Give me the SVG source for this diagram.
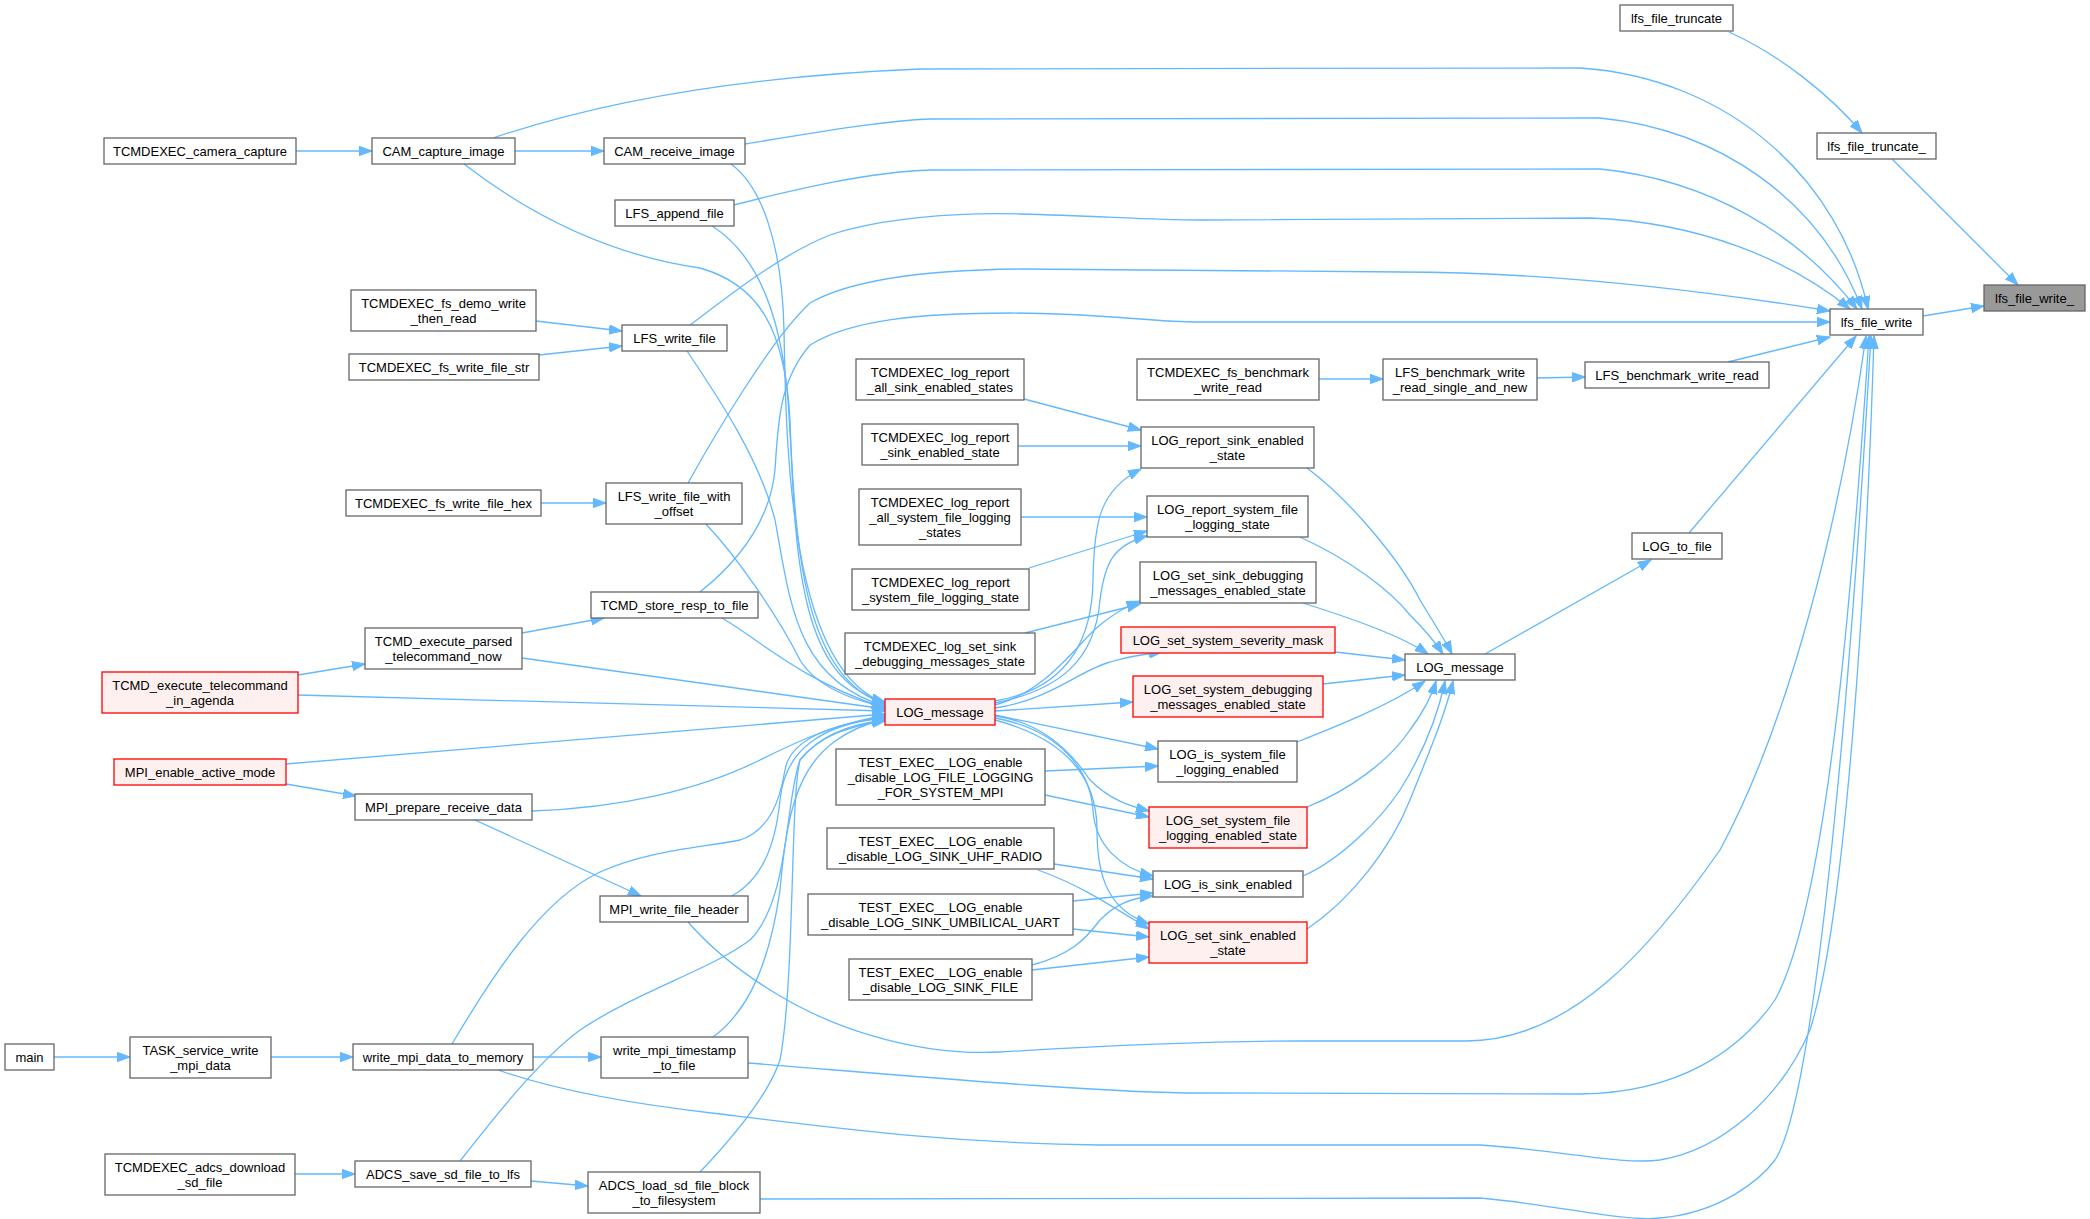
<svg xmlns="http://www.w3.org/2000/svg" width="2090" height="1219" viewBox="0 0 2090 1219">
<style>
.n rect{fill:#ffffff;stroke:#666666;stroke-width:1.3}
.n.r rect{fill:#fff0f0;stroke:#ff0000}
.n.g rect{fill:#999999;stroke:#666666}
.n text{font-family:"Liberation Sans",Arial,Helvetica,sans-serif;font-size:13px;fill:#000000;text-anchor:middle}
.e{fill:none;stroke:#63b8ff;stroke-width:1.3;marker-end:url(#ah)}
</style>
<defs>
<marker id="ah" markerUnits="userSpaceOnUse" markerWidth="14" markerHeight="10" viewBox="0 0 14 10" refX="13" refY="5" orient="auto"><path d="M0,0.3 L13,5 L0,9.7 z" fill="#63b8ff" stroke="#63b8ff" stroke-width="1"/></marker>
</defs>
<rect width="2090" height="1219" fill="#ffffff"/>
<g id="edges">
<path class="e" d="M1729,32 C1780,55 1830,95 1862,133"/>
<path class="e" d="M1892,159 L2018,285"/>
<path class="e" d="M1923,316 L1984,306"/>
<path class="e" d="M493,138 C570,112 700,78 920,69 L1580,68 C1730,78 1840,180 1868,309"/>
<path class="e" d="M745,144 C820,132 880,121 930,119 L1600,118 C1720,130 1820,200 1862,309"/>
<path class="e" d="M734,205 C800,188 870,172 930,170 L1600,169 C1710,180 1800,235 1857,309"/>
<path class="e" d="M690,325 C730,295 780,255 830,235 C880,218 960,212 1020,214 C1100,216 1150,220 1200,220 L1590,218 C1700,222 1790,260 1850,309"/>
<path class="e" d="M688,483 C712,440 770,340 810,303 C850,280 920,270 1020,269 L1400,272 C1550,272 1700,290 1830,311"/>
<path class="e" d="M700,592 C740,560 770,520 775,470 C778,420 780,380 810,345 C850,320 920,313 1010,313 C1100,313 1150,322 1200,322 L1830,322"/>
<path class="e" d="M1728,362 L1830,337"/>
<path class="e" d="M1537,378 L1585,377"/>
<path class="e" d="M1319,379 L1383,379"/>
<path class="e" d="M1689,533 L1856,336"/>
<path class="e" d="M1485,654 L1651,560"/>
<path class="e" d="M688,922 C730,970 800,1015 870,1035 C920,1050 960,1054 1000,1052 C1100,1046 1200,1041 1300,1041 L1466,1041 C1570,1041 1650,950 1720,850 C1790,720 1840,520 1866,336"/>
<path class="e" d="M748,1063 C900,1075 1100,1093 1200,1093 L1580,1094 C1680,1093 1740,1050 1775,1000 C1830,900 1855,550 1869,336"/>
<path class="e" d="M498,1070 C560,1092 640,1105 720,1114 C850,1130 950,1143 1100,1145 L1480,1145 C1560,1150 1620,1165 1660,1160 C1720,1150 1780,1100 1810,1030 C1845,920 1866,600 1874,336"/>
<path class="e" d="M760,1199 L1480,1198 C1560,1205 1620,1222 1660,1218 C1720,1213 1760,1180 1775,1160 C1815,1100 1850,700 1871,336"/>
<path class="e" d="M464,164 C530,215 610,255 700,268 C760,285 785,330 790,420 C795,560 800,680 885,702"/>
<path class="e" d="M731,164 C760,185 782,240 784,330 C786,450 790,670 885,703"/>
<path class="e" d="M712,226 C750,250 780,300 788,400 C796,520 795,675 885,704"/>
<path class="e" d="M687,351 C720,400 760,460 775,520 C790,600 795,680 885,706"/>
<path class="e" d="M705,523 C740,560 780,620 800,660 C815,685 850,700 885,707"/>
<path class="e" d="M722,618 C760,640 800,680 885,708"/>
<path class="e" d="M522,658 L885,709"/>
<path class="e" d="M298,695 L885,711"/>
<path class="e" d="M286,764 L885,714"/>
<path class="e" d="M532,811 C620,808 700,790 760,760 C800,740 840,722 885,716"/>
<path class="e" d="M732,896 C760,880 775,850 780,800 C785,750 820,725 885,717"/>
<path class="e" d="M452,1044 C490,980 540,900 600,872 C650,850 700,848 740,840 C770,830 780,800 785,770 C790,740 830,724 885,718"/>
<path class="e" d="M713,1037 C750,1010 770,960 780,890 C788,800 800,740 885,719"/>
<path class="e" d="M460,1161 C500,1110 540,1060 580,1030 C640,990 710,970 750,940 C790,900 785,800 800,760 C820,735 850,724 885,720"/>
<path class="e" d="M700,1172 C740,1130 770,1090 780,1060 C795,980 790,800 800,760 C820,735 850,726 885,721"/>
<path class="e" d="M995,701 C1060,690 1092,650 1093,580 C1094,520 1100,490 1141,469"/>
<path class="e" d="M995,703 C1060,690 1095,660 1100,600 C1105,560 1115,545 1147,536"/>
<path class="e" d="M995,705 C1050,690 1080,640 1100,625 C1112,615 1125,607 1140,601"/>
<path class="e" d="M995,708 C1050,700 1080,670 1110,662 C1130,656 1145,654 1162,652"/>
<path class="e" d="M995,711 L1133,702"/>
<path class="e" d="M995,715 L1158,749"/>
<path class="e" d="M995,716 C1040,722 1070,750 1090,780 C1110,800 1130,806 1149,811"/>
<path class="e" d="M995,718 C1060,730 1090,770 1093,810 C1095,845 1120,868 1153,876"/>
<path class="e" d="M995,720 C1070,740 1097,780 1097,830 C1097,880 1110,910 1149,924"/>
<path class="e" d="M1024,399 L1141,430"/>
<path class="e" d="M1018,446 L1141,446"/>
<path class="e" d="M1021,517 L1147,517"/>
<path class="e" d="M1029,568 L1147,531"/>
<path class="e" d="M1025,633 L1140,604"/>
<path class="e" d="M1045,771 L1158,766"/>
<path class="e" d="M1045,795 L1149,817"/>
<path class="e" d="M1054,864 L1153,879"/>
<path class="e" d="M1038,870 C1080,885 1110,905 1149,929"/>
<path class="e" d="M1073,901 L1153,893"/>
<path class="e" d="M1073,929 L1149,937"/>
<path class="e" d="M1032,965 C1070,955 1085,940 1100,920 C1115,905 1130,898 1153,896"/>
<path class="e" d="M1032,970 L1149,957"/>
<path class="e" d="M1307,468 C1350,500 1400,560 1420,600 C1435,625 1445,640 1452,654"/>
<path class="e" d="M1300,537 C1350,560 1390,590 1410,615 C1425,630 1435,642 1443,654"/>
<path class="e" d="M1303,603 C1350,618 1400,635 1428,654"/>
<path class="e" d="M1335,652 L1405,660"/>
<path class="e" d="M1323,684 L1405,675"/>
<path class="e" d="M1297,742 C1340,725 1390,705 1425,681"/>
<path class="e" d="M1307,807 C1350,790 1390,760 1410,730 C1425,710 1432,695 1436,681"/>
<path class="e" d="M1303,876 C1340,860 1380,820 1400,790 C1425,750 1438,715 1445,681"/>
<path class="e" d="M1307,929 C1350,900 1390,850 1410,800 C1430,750 1445,715 1453,681"/>
<path class="e" d="M296,151 L372,151"/>
<path class="e" d="M515,151 L604,151"/>
<path class="e" d="M536,321 L622,331"/>
<path class="e" d="M539,355 L622,346"/>
<path class="e" d="M541,503 L606,503"/>
<path class="e" d="M522,633 L604,618"/>
<path class="e" d="M298,675 L365,664"/>
<path class="e" d="M286,784 L356,796"/>
<path class="e" d="M475,820 L641,896"/>
<path class="e" d="M54,1057 L130,1057"/>
<path class="e" d="M271,1057 L353,1057"/>
<path class="e" d="M533,1057 L601,1057"/>
<path class="e" d="M295,1174 L355,1174"/>
<path class="e" d="M531,1181 L588,1186"/>
</g>
<g id="lfs_file_write_" class="n g"><rect x="1984" y="285" width="101" height="26"/><text x="2034.5" y="302.5">lfs_file_write_</text></g>
<g id="lfs_file_write" class="n"><rect x="1830" y="309" width="93" height="26"/><text x="1876.5" y="326.5">lfs_file_write</text></g>
<g id="lfs_file_truncate_" class="n"><rect x="1817" y="133" width="119" height="26"/><text x="1876.5" y="150.5">lfs_file_truncate_</text></g>
<g id="lfs_file_truncate" class="n"><rect x="1620" y="5" width="113" height="26"/><text x="1676.5" y="22.5">lfs_file_truncate</text></g>
<g id="LFS_benchmark_write_read" class="n"><rect x="1585" y="362" width="184" height="26"/><text x="1677" y="379.5">LFS_benchmark_write_read</text></g>
<g id="LFS_benchmark_write_read_single_and_new" class="n"><rect x="1383" y="359" width="154" height="41"/><text x="1460" y="376.5">LFS_benchmark_write</text><text x="1460" y="391.5">_read_single_and_new</text></g>
<g id="TCMDEXEC_fs_benchmark_write_read" class="n"><rect x="1137" y="359" width="182" height="41"/><text x="1228" y="376.5">TCMDEXEC_fs_benchmark</text><text x="1228" y="391.5">_write_read</text></g>
<g id="LOG_to_file" class="n"><rect x="1632" y="533" width="90" height="26"/><text x="1677" y="550.5">LOG_to_file</text></g>
<g id="LOG_message_r" class="n"><rect x="1405" y="654" width="110" height="26"/><text x="1460" y="671.5">LOG_message</text></g>
<g id="CAM_capture_image" class="n"><rect x="372" y="138" width="143" height="26"/><text x="443.5" y="155.5">CAM_capture_image</text></g>
<g id="TCMDEXEC_camera_capture" class="n"><rect x="104" y="138" width="192" height="26"/><text x="200" y="155.5">TCMDEXEC_camera_capture</text></g>
<g id="CAM_receive_image" class="n"><rect x="604" y="138" width="141" height="26"/><text x="674.5" y="155.5">CAM_receive_image</text></g>
<g id="LFS_append_file" class="n"><rect x="615" y="200" width="119" height="26"/><text x="674.5" y="217.5">LFS_append_file</text></g>
<g id="LFS_write_file" class="n"><rect x="622" y="325" width="105" height="26"/><text x="674.5" y="342.5">LFS_write_file</text></g>
<g id="TCMDEXEC_fs_demo_write_then_read" class="n"><rect x="351" y="290" width="185" height="41"/><text x="443.5" y="307.5">TCMDEXEC_fs_demo_write</text><text x="443.5" y="322.5">_then_read</text></g>
<g id="TCMDEXEC_fs_write_file_str" class="n"><rect x="349" y="354" width="190" height="26"/><text x="444" y="371.5">TCMDEXEC_fs_write_file_str</text></g>
<g id="LFS_write_file_with_offset" class="n"><rect x="606" y="483" width="136" height="41"/><text x="674" y="500.5">LFS_write_file_with</text><text x="674" y="515.5">_offset</text></g>
<g id="TCMDEXEC_fs_write_file_hex" class="n"><rect x="346" y="490" width="195" height="26"/><text x="443.5" y="507.5">TCMDEXEC_fs_write_file_hex</text></g>
<g id="TCMD_store_resp_to_file" class="n"><rect x="591" y="592" width="167" height="26"/><text x="674.5" y="609.5">TCMD_store_resp_to_file</text></g>
<g id="TCMD_execute_parsed_telecommand_now" class="n"><rect x="365" y="628" width="157" height="41"/><text x="443.5" y="645.5">TCMD_execute_parsed</text><text x="443.5" y="660.5">_telecommand_now</text></g>
<g id="TCMD_execute_telecommand_in_agenda" class="n r"><rect x="102" y="672" width="196" height="41"/><text x="200" y="689.5">TCMD_execute_telecommand</text><text x="200" y="704.5">_in_agenda</text></g>
<g id="MPI_enable_active_mode" class="n r"><rect x="114" y="759" width="172" height="26"/><text x="200" y="776.5">MPI_enable_active_mode</text></g>
<g id="MPI_prepare_receive_data" class="n"><rect x="355" y="794" width="177" height="26"/><text x="443.5" y="811.5">MPI_prepare_receive_data</text></g>
<g id="MPI_write_file_header" class="n"><rect x="600" y="896" width="148" height="26"/><text x="674" y="913.5">MPI_write_file_header</text></g>
<g id="main" class="n"><rect x="5" y="1044" width="49" height="26"/><text x="29.5" y="1061.5">main</text></g>
<g id="TASK_service_write_mpi_data" class="n"><rect x="130" y="1037" width="141" height="41"/><text x="200.5" y="1054.5">TASK_service_write</text><text x="200.5" y="1069.5">_mpi_data</text></g>
<g id="write_mpi_data_to_memory" class="n"><rect x="353" y="1044" width="180" height="26"/><text x="443" y="1061.5">write_mpi_data_to_memory</text></g>
<g id="write_mpi_timestamp_to_file" class="n"><rect x="601" y="1037" width="147" height="41"/><text x="674.5" y="1054.5">write_mpi_timestamp</text><text x="674.5" y="1069.5">_to_file</text></g>
<g id="TCMDEXEC_adcs_download_sd_file" class="n"><rect x="105" y="1154" width="190" height="41"/><text x="200" y="1171.5">TCMDEXEC_adcs_download</text><text x="200" y="1186.5">_sd_file</text></g>
<g id="ADCS_save_sd_file_to_lfs" class="n"><rect x="355" y="1161" width="176" height="26"/><text x="443" y="1178.5">ADCS_save_sd_file_to_lfs</text></g>
<g id="ADCS_load_sd_file_block_to_filesystem" class="n"><rect x="588" y="1172" width="172" height="41"/><text x="674" y="1189.5">ADCS_load_sd_file_block</text><text x="674" y="1204.5">_to_filesystem</text></g>
<g id="LOG_message_l" class="n r"><rect x="885" y="699" width="110" height="26"/><text x="940" y="716.5">LOG_message</text></g>
<g id="TCMDEXEC_log_report_all_sink_enabled_states" class="n"><rect x="856" y="359" width="168" height="41"/><text x="940" y="376.5">TCMDEXEC_log_report</text><text x="940" y="391.5">_all_sink_enabled_states</text></g>
<g id="TCMDEXEC_log_report_sink_enabled_state" class="n"><rect x="862" y="424" width="156" height="41"/><text x="940" y="441.5">TCMDEXEC_log_report</text><text x="940" y="456.5">_sink_enabled_state</text></g>
<g id="TCMDEXEC_log_report_all_system_file_logging_states" class="n"><rect x="859" y="489" width="162" height="56"/><text x="940" y="506.5">TCMDEXEC_log_report</text><text x="940" y="521.5">_all_system_file_logging</text><text x="940" y="536.5">_states</text></g>
<g id="TCMDEXEC_log_report_system_file_logging_state" class="n"><rect x="852" y="569" width="177" height="41"/><text x="940.5" y="586.5">TCMDEXEC_log_report</text><text x="940.5" y="601.5">_system_file_logging_state</text></g>
<g id="TCMDEXEC_log_set_sink_debugging_messages_state" class="n"><rect x="845" y="633" width="190" height="41"/><text x="940" y="650.5">TCMDEXEC_log_set_sink</text><text x="940" y="665.5">_debugging_messages_state</text></g>
<g id="TEST_EXEC__LOG_enable_disable_LOG_FILE_LOGGING_FOR_SYSTEM_MPI" class="n"><rect x="836" y="749" width="209" height="56"/><text x="940.5" y="766.5">TEST_EXEC__LOG_enable</text><text x="940.5" y="781.5">_disable_LOG_FILE_LOGGING</text><text x="940.5" y="796.5">_FOR_SYSTEM_MPI</text></g>
<g id="TEST_EXEC__LOG_enable_disable_LOG_SINK_UHF_RADIO" class="n"><rect x="827" y="828" width="227" height="41"/><text x="940.5" y="845.5">TEST_EXEC__LOG_enable</text><text x="940.5" y="860.5">_disable_LOG_SINK_UHF_RADIO</text></g>
<g id="TEST_EXEC__LOG_enable_disable_LOG_SINK_UMBILICAL_UART" class="n"><rect x="808" y="894" width="265" height="41"/><text x="940.5" y="911.5">TEST_EXEC__LOG_enable</text><text x="940.5" y="926.5">_disable_LOG_SINK_UMBILICAL_UART</text></g>
<g id="TEST_EXEC__LOG_enable_disable_LOG_SINK_FILE" class="n"><rect x="849" y="959" width="183" height="41"/><text x="940.5" y="976.5">TEST_EXEC__LOG_enable</text><text x="940.5" y="991.5">_disable_LOG_SINK_FILE</text></g>
<g id="LOG_report_sink_enabled_state" class="n"><rect x="1141" y="427" width="173" height="41"/><text x="1227.5" y="444.5">LOG_report_sink_enabled</text><text x="1227.5" y="459.5">_state</text></g>
<g id="LOG_report_system_file_logging_state" class="n"><rect x="1147" y="496" width="161" height="41"/><text x="1227.5" y="513.5">LOG_report_system_file</text><text x="1227.5" y="528.5">_logging_state</text></g>
<g id="LOG_set_sink_debugging_messages_enabled_state" class="n"><rect x="1140" y="562" width="176" height="41"/><text x="1228" y="579.5">LOG_set_sink_debugging</text><text x="1228" y="594.5">_messages_enabled_state</text></g>
<g id="LOG_set_system_severity_mask" class="n r"><rect x="1121" y="627" width="214" height="26"/><text x="1228" y="644.5">LOG_set_system_severity_mask</text></g>
<g id="LOG_set_system_debugging_messages_enabled_state" class="n r"><rect x="1133" y="676" width="190" height="41"/><text x="1228" y="693.5">LOG_set_system_debugging</text><text x="1228" y="708.5">_messages_enabled_state</text></g>
<g id="LOG_is_system_file_logging_enabled" class="n"><rect x="1158" y="741" width="139" height="41"/><text x="1227.5" y="758.5">LOG_is_system_file</text><text x="1227.5" y="773.5">_logging_enabled</text></g>
<g id="LOG_set_system_file_logging_enabled_state" class="n r"><rect x="1149" y="807" width="158" height="41"/><text x="1228" y="824.5">LOG_set_system_file</text><text x="1228" y="839.5">_logging_enabled_state</text></g>
<g id="LOG_is_sink_enabled" class="n"><rect x="1153" y="871" width="150" height="26"/><text x="1228" y="888.5">LOG_is_sink_enabled</text></g>
<g id="LOG_set_sink_enabled_state" class="n r"><rect x="1149" y="922" width="158" height="41"/><text x="1228" y="939.5">LOG_set_sink_enabled</text><text x="1228" y="954.5">_state</text></g>
</svg>
